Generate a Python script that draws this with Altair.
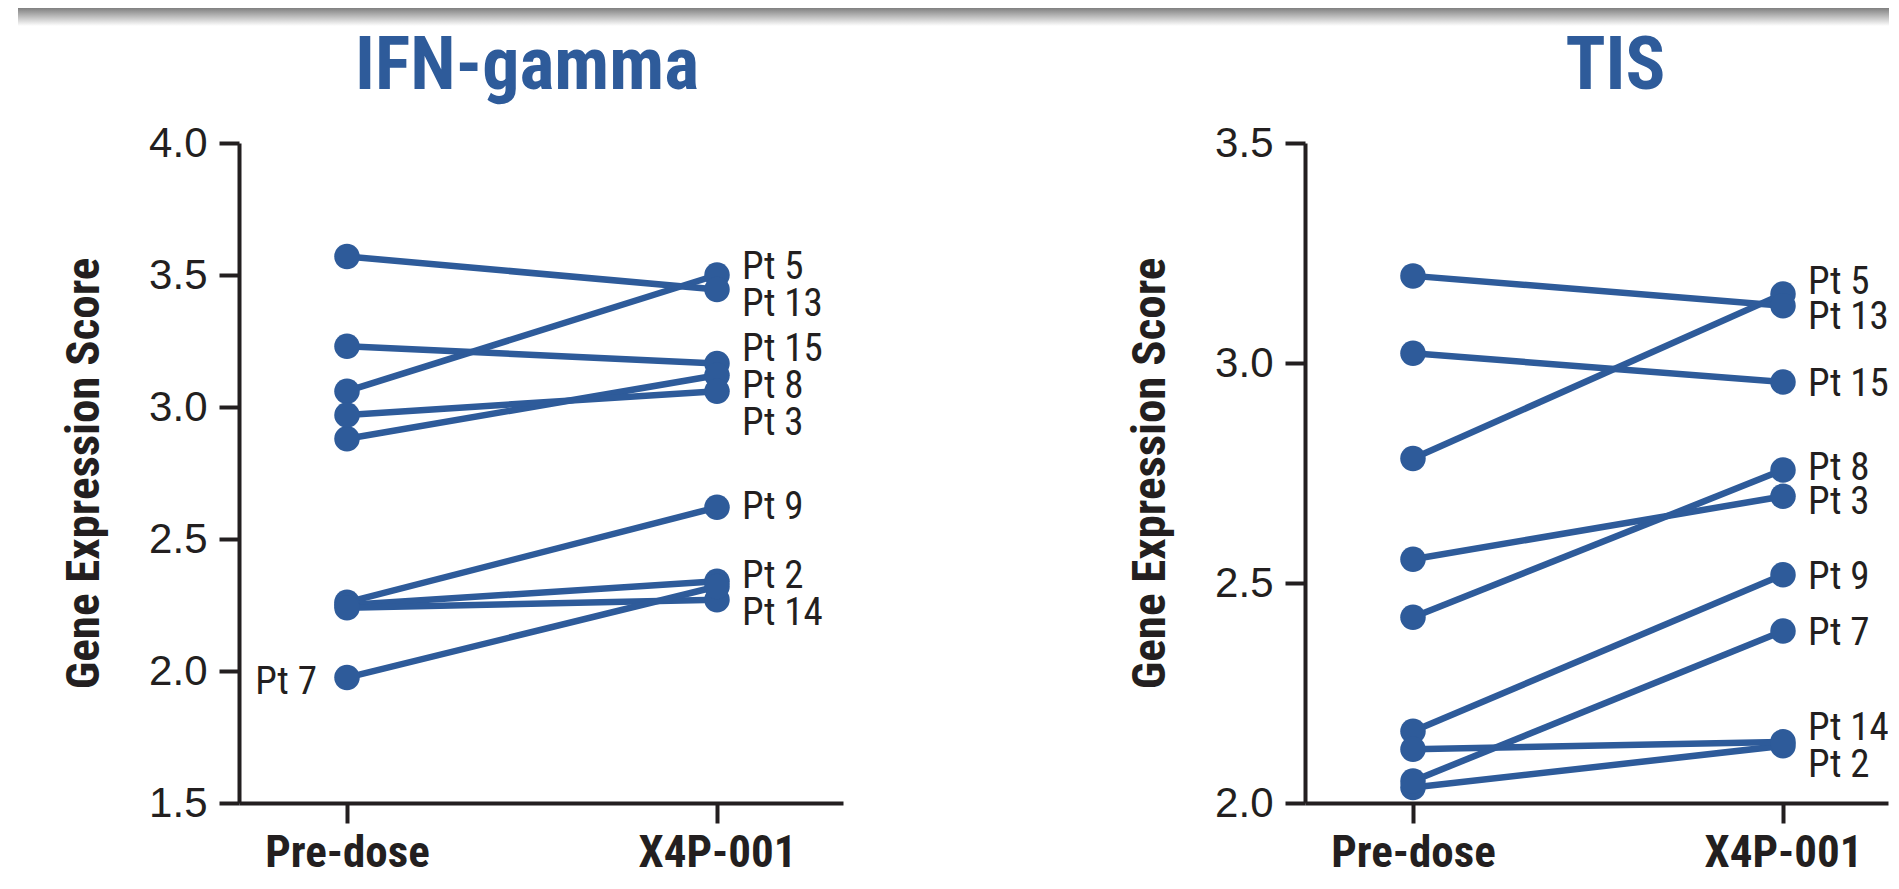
import altair as alt
import pandas as pd

# ---------------- data ----------------
timepoints = ["Pre-dose", "X4P-001"]
patients = ["Pt 5", "Pt 13", "Pt 15", "Pt 8", "Pt 3", "Pt 9", "Pt 2", "Pt 14", "Pt 7"]

ifn_pre = [3.06, 3.57, 3.23, 2.88, 2.97, 2.26, 2.25, 2.24, 1.975]
ifn_post = [3.50, 3.445, 3.165, 3.12, 3.06, 2.62, 2.34, 2.27, 2.32]
ifn_label_y = [3.53, 3.39, 3.22, 3.08, 2.94, 2.62, 2.36, 2.22, 1.96]
ifn_label_side = ["X4P-001"] * 8 + ["Pre-dose"]

tis_pre = [2.783, 3.198, 3.022, 2.422, 2.554, 2.163, 2.035, 2.122, 2.05]
tis_post = [3.157, 3.13, 2.957, 2.757, 2.697, 2.519, 2.13, 2.139, 2.391]
tis_label_y = [3.183, 3.104, 2.952, 2.761, 2.683, 2.513, 2.087, 2.17, 2.387]
tis_label_side = ["X4P-001"] * 9

ifn_ticks = [1.5, 2.0, 2.5, 3.0, 3.5, 4.0]
tis_ticks = [2.0, 2.5, 3.0, 3.5]

# ---------------- style ----------------
BLUE = "#2E5B9A"
INK = "#231F20"
NARROW = "Roboto Condensed, DejaVu Sans Condensed, Roboto, sans-serif"
REG = "Liberation Sans, Arial, sans-serif"


def long_df(pre, post):
    rows = []
    for p, a, b in zip(patients, pre, post):
        rows.append({"patient": p, "time": timepoints[0], "score": a})
        rows.append({"patient": p, "time": timepoints[1], "score": b})
    return pd.DataFrame(rows)


def label_df(label_y, sides):
    return pd.DataFrame({"patient": patients, "time": sides, "score": label_y})


def panel(title, pre, post, label_y, sides, ticks, width, pad, align, title_dx, label_dx, clip, spacer):
    x = alt.X(
        "time:N",
        sort=timepoints,
        scale=alt.Scale(type="point", domain=timepoints, padding=pad, align=align),
        axis=alt.Axis(title=None, labelAngle=0, labelFont=NARROW, labelFontWeight="bold",
                      labelFontSize=45, labelBaseline="alphabetic", labelPadding=43,
                      labelColor=INK),
    )
    y = alt.Y(
        "score:Q",
        scale=alt.Scale(domain=[ticks[0], ticks[-1]], nice=False, zero=False),
        axis=alt.Axis(title="Gene Expression Score", values=ticks, format=".1f"),
    )
    base = alt.Chart(long_df(pre, post))
    lines = base.mark_line(color=BLUE, strokeWidth=6.5).encode(x=x, y=y, detail="patient:N")
    pts = base.mark_circle(color=BLUE, opacity=1, size=650).encode(x=x, y=y)
    lab = alt.Chart(label_df(label_y, sides))
    post_lab = lab.transform_filter(alt.datum.time == timepoints[1]).mark_text(
        align="left", baseline="middle", dx=label_dx, font=NARROW, fontSize=39, color=INK, clip=clip
    ).encode(x=x, y=y, text="patient:N")
    layers = [lines, pts, post_lab]
    if timepoints[0] in sides:
        pre_lab = lab.transform_filter(alt.datum.time == timepoints[0]).mark_text(
            align="right", baseline="middle", dx=-30, font=NARROW, fontSize=39, color=INK
        ).encode(x=x, y=y, text="patient:N")
        layers.append(pre_lab)
    if spacer:
        sp = alt.Chart(pd.DataFrame({"k": [0]})).mark_rule(strokeOpacity=0, opacity=0).encode(
            x=alt.value(-221), y=alt.value(0), y2=alt.value(10)
        )
        layers.append(sp)
    return alt.layer(*layers).properties(
        width=width,
        height=660,
        title=alt.TitleParams(title, font=NARROW, fontSize=74, fontWeight="bold", color=BLUE,
                              anchor="middle", frame="group", baseline="alphabetic",
                              offset=-41, dx=title_dx),
    )


left = panel("IFN-gamma", ifn_pre, ifn_post, ifn_label_y, ifn_label_side, ifn_ticks,
             604, 0.3162, 0.4615, -14, 25, False, True)
right = panel("TIS", tis_pre, tis_post, tis_label_y, tis_label_side, tis_ticks,
              583, 0.2878, 0.507, 19, 25, True, False)

band = alt.Chart(pd.DataFrame({"k": [0]})).mark_rect(
    color=alt.Gradient(
        gradient="linear",
        stops=[alt.GradientStop(color="#808080", offset=0),
               alt.GradientStop(color="#ffffff", offset=1)],
        x1=0, x2=0, y1=0, y2=1,
    )
).encode(x=alt.value(-221), x2=alt.value(1650), y=alt.value(0), y2=alt.value(18)).properties(
    width=1500, height=18
)

chart = alt.vconcat(
    band,
    alt.hconcat(left, right, spacing=283),
    spacing=4,
).properties(
    padding={"left": 10, "top": 0, "right": 0, "bottom": 4}
).configure_view(stroke=None).configure_axis(
    grid=False,
    domainColor=INK,
    domainWidth=4,
    tickColor=INK,
    tickWidth=4,
    tickSize=20,
    labelFont=REG,
    labelFontSize=42,
    labelColor=INK,
    labelPadding=12,
    titleFont=NARROW,
    titleFontWeight="bold",
    titleFontSize=47,
    titleColor=INK,
    titlePadding=40,
)

chart.save("out.html", embed_options={"renderer": "svg", "actions": False})
